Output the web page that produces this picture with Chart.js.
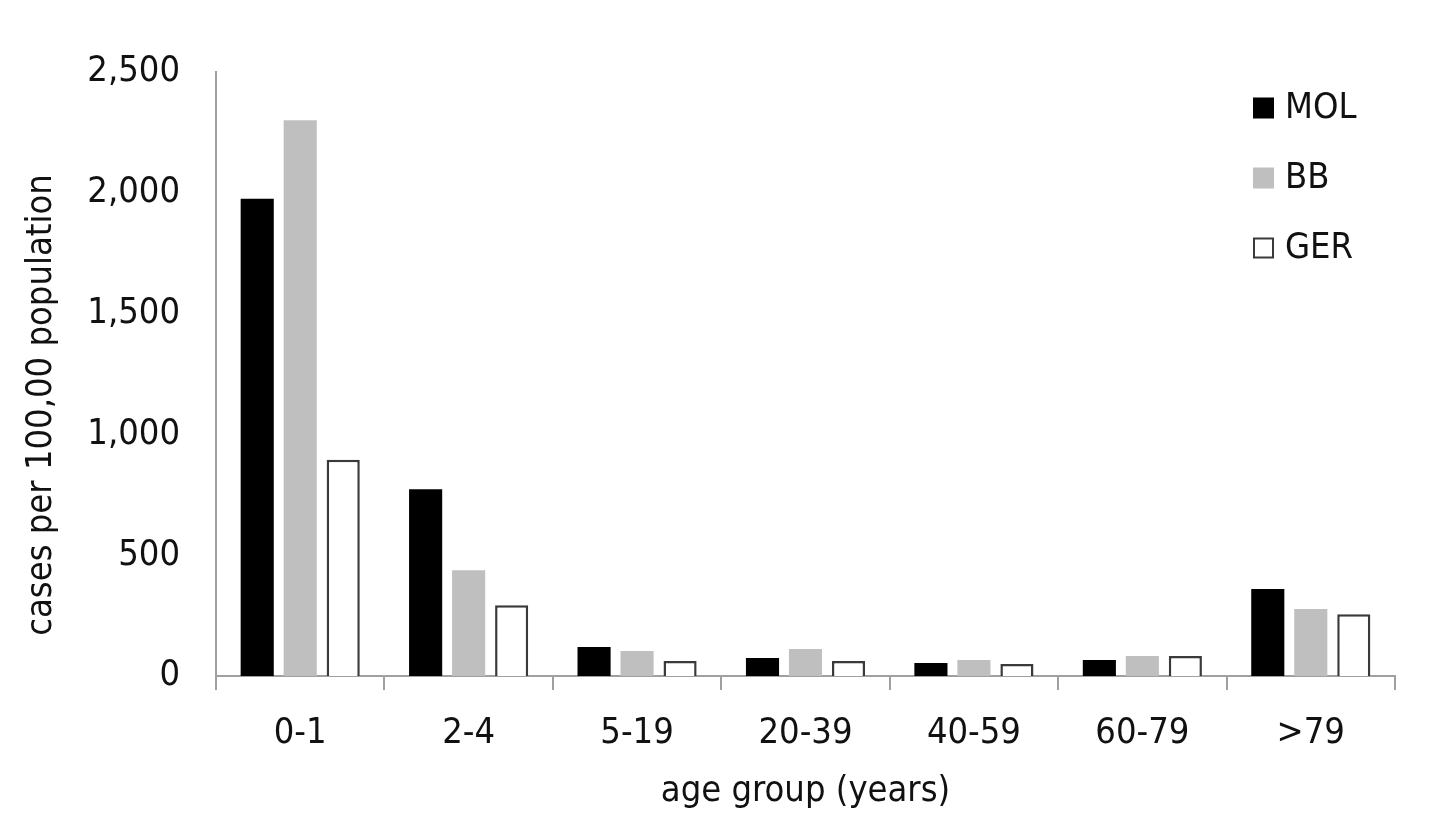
<!DOCTYPE html>
<html><head><meta charset="utf-8">
<script src="https://cdn.jsdelivr.net/npm/chart.js@4.4.0/dist/chart.umd.min.js"></script>
<style>html,body{margin:0;padding:0;background:#fff}#wrap{width:1444px;height:839px}</style>
</head><body><div id="wrap"><canvas id="c" width="1444" height="839"></canvas></div>
<script>
const categories = ['0-1', '2-4', '5-19', '20-39', '40-59', '60-79', '>79'];
const seriesNames = ['MOL', 'BB', 'GER'];
const molValues = [1975, 773, 120, 74, 54, 66, 360];
const bbValues = [2300, 438, 103, 112, 66, 83, 277];
const gerValues = [895, 293, 62, 62, 50, 83, 256];
const yTicks = [0, 500, 1000, 1500, 2000, 2500];
const yTitle = 'cases per 100,00 population';
const xTitle = 'age group (years)';

const FONT = "'DejaVu Sans Condensed', 'DejaVu Sans', sans-serif";
const TXT = '#111111';
const FS = 36;

const legendPlugin = {
  id: 'sideLegend',
  afterDraw(chart) {
    const ctx = chart.ctx;
    ctx.save();
    chart.data.datasets.forEach((ds, i) => {
      const cy = 108 + i * 70;
      const x = 1253, s = 21;
      ctx.fillStyle = ds.backgroundColor;
      ctx.fillRect(x, cy - s / 2, s, s);
      if (ds.borderWidth) {
        ctx.strokeStyle = ds.borderColor;
        ctx.lineWidth = 2;
        ctx.strokeRect(x + 1, cy - s / 2 + 1, s - 2, s - 2);
      }
      ctx.fillStyle = TXT;
      ctx.font = FS + "px " + FONT;
      ctx.textBaseline = 'middle';
      ctx.textAlign = 'left';
      ctx.fillText(ds.label, 1285, cy + 1);
    });
    // y-axis title
    ctx.translate(42, 405);
    ctx.rotate(-Math.PI / 2);
    ctx.textAlign = 'center';
    ctx.textBaseline = 'middle';
    ctx.font = FS + "px " + FONT;
    ctx.fillText(yTitle, 0, 0);
    ctx.restore();
  }
};

new Chart(document.getElementById('c'), {
  type: 'bar',
  data: {
    labels: categories,
    datasets: [
      { label: seriesNames[0], data: molValues, backgroundColor: '#000000', borderWidth: 0 },
      { label: seriesNames[1], data: bbValues, backgroundColor: '#bfbfbf', borderWidth: 0 },
      { label: seriesNames[2], data: gerValues, backgroundColor: '#ffffff', borderColor: '#3a3a3a', borderWidth: 2.5 }
    ]
  },
  options: {
    responsive: false,
    animation: false,
    devicePixelRatio: 1,
    categoryPercentage: 0.766,
    barPercentage: 0.77,
    layout: { padding: { top: 72, right: 49, left: 0, bottom: 0 } },
    plugins: { legend: { display: false }, tooltip: { enabled: false } },
    scales: {
      x: {
        grid: { display: true, drawOnChartArea: false, drawTicks: true, tickLength: 14, offset: true,
          color: (c) => c.index === categories.length ? 'rgba(0,0,0,0)' : '#a0a0a0', lineWidth: 2 },
        border: { display: true, color: '#a0a0a0', width: 2 },
        ticks: { color: TXT, font: { family: FONT, size: FS }, padding: 22, maxRotation: 0 },
        title: { display: true, text: xTitle, color: TXT, font: { family: FONT, size: FS }, padding: { top: 0, bottom: 26 } },
        afterFit(scale) { scale.height = 839 - 676; }
      },
      y: {
        min: 0, max: 2500,
        afterBuildTicks(scale) { scale.ticks = yTicks.map(v => ({ value: v })); },
        grid: { display: false, drawTicks: false },
        border: { display: true, color: '#a0a0a0', width: 2 },
        ticks: { color: TXT, font: { family: FONT, size: FS }, padding: 36,
          callback: v => v.toLocaleString('en-US') },
        title: { display: false },
        afterFit(scale) { scale.width = 216; }
      }
    }
  },
  plugins: [legendPlugin]
});
</script></body></html>
